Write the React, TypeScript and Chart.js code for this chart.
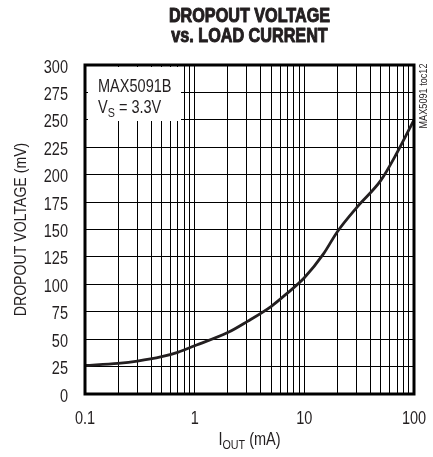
import React, { useEffect, useRef } from "react";
import { Chart, registerables } from "chart.js";

Chart.register(...registerables);

const currentMA = [0.1, 0.2, 0.3, 0.5, 0.7, 1, 2, 3, 5, 7, 10, 15, 20, 30, 50, 70, 100];
const dropoutMV = [26, 28, 30, 34, 38, 44, 56, 66, 80, 92, 106, 128, 148, 170, 195, 220, 250];
const xGridValues = [0.1, 0.2, 0.3, 0.4, 0.5, 0.6, 0.7, 0.8, 0.9, 1, 2, 3, 4, 5, 6, 7, 8, 9, 10, 20, 30, 40, 50, 60, 70, 80, 90, 100];
const xLabelValues = [0.1, 1, 10, 100];
const xLabelTexts = ["0.1", "1", "10", "100"];
const titleLines = ["DROPOUT VOLTAGE", "vs. LOAD CURRENT"];

const FONT = '"Liberation Sans", Arial, sans-serif';
const SX = 0.83; // horizontal condensing to mimic a narrow face
const SIZE = 17.5;
const INK = "#231f20";

type Part = [string, boolean];

function measureParts(ctx: CanvasRenderingContext2D, parts: Part[], size: number, weight: string) {
  return parts.map(([t, sub]) => {
    ctx.font = `${weight} ${sub ? size * 0.74 : size}px ${FONT}`;
    return ctx.measureText(t).width * SX;
  });
}

// draws condensed text (with optional subscript parts) at baseline y
function drawText(
  ctx: CanvasRenderingContext2D,
  parts: Part[],
  x: number,
  y: number,
  size: number,
  align: "left" | "center" | "right",
  weight = "normal",
  heavy = 0
) {
  ctx.save();
  ctx.fillStyle = INK;
  ctx.strokeStyle = INK;
  ctx.textAlign = "left";
  ctx.textBaseline = "alphabetic";
  const widths = measureParts(ctx, parts, size, weight);
  const total = widths.reduce((a, b) => a + b, 0);
  let cx = align === "center" ? x - total / 2 : align === "right" ? x - total : x;
  parts.forEach(([t, sub], i) => {
    ctx.font = `${weight} ${sub ? size * 0.74 : size}px ${FONT}`;
    ctx.save();
    ctx.translate(cx, sub ? y + size * 0.24 : y);
    ctx.scale(SX, 1);
    ctx.fillText(t, 0, 0);
    if (heavy > 0) {
      ctx.lineWidth = heavy;
      ctx.lineJoin = "round";
      ctx.strokeText(t, 0, 0);
    }
    ctx.restore();
    cx += widths[i];
  });
  ctx.restore();
}

const decorPlugin = {
  id: "decor",
  beforeDatasetsDraw(chart: any) {
    const { ctx, chartArea } = chart;
    ctx.save();
    ctx.fillStyle = "#fff";
    ctx.fillRect(chartArea.left + 3, chartArea.top + 2, 93, 54);
    ctx.restore();
  },
  afterDraw(chart: any) {
    const { ctx, chartArea, scales } = chart;
    const { left, right, top, bottom } = chartArea;
    ctx.save();
    ctx.strokeStyle = "#000";
    ctx.lineWidth = 3;
    ctx.strokeRect(left, top, right - left, bottom - top);
    ctx.restore();

    const cx = (left + right) / 2;
    // title
    drawText(ctx, [[titleLines[0], false]], cx, 22, 19.5, "center", "bold", 1);
    drawText(ctx, [[titleLines[1], false]], cx, 42, 19.5, "center", "bold", 1);

    // y tick labels
    scales.y.ticks.forEach((t: any) => {
      const py = scales.y.getPixelForValue(t.value);
      drawText(ctx, [[String(t.value), false]], left - 17, py + 7.5, SIZE, "right");
    });
    // x tick labels
    xLabelValues.forEach((v, i) => {
      const px = scales.x.getPixelForValue(v);
      drawText(ctx, [[xLabelTexts[i], false]], px, bottom + 30, SIZE, "center");
    });

    // annotation
    drawText(ctx, [["MAX5091B", false]], left + 13, top + 27, SIZE, "left");
    drawText(ctx, [["V", false], ["S", true], [" = 3.3V", false]], left + 13, top + 48, SIZE, "left");

    // x title
    drawText(ctx, [["I", false], ["OUT", true], [" (mA)", false]], cx, 445, SIZE, "center");

    // y title
    ctx.save();
    ctx.translate(26, (top + bottom) / 2);
    ctx.rotate(-Math.PI / 2);
    drawText(ctx, [["DROPOUT VOLTAGE (mV)", false]], 0, 0, 17, "center");
    ctx.restore();

    // side id
    ctx.save();
    ctx.translate(427, 96);
    ctx.rotate(-Math.PI / 2);
    drawText(ctx, [["MAX5091 toc12", false]], 0, 0, 11, "center");
    ctx.restore();
  },
};

export default function App() {
  const ref = useRef<HTMLCanvasElement>(null);
  useEffect(() => {
    if (!ref.current) return;
    const chart = new Chart(ref.current, {
      type: "line",
      data: {
        datasets: [
          {
            data: currentMA.map((x, i) => ({ x, y: dropoutMV[i] })),
            borderColor: INK,
            borderWidth: 2.8,
            pointRadius: 0,
            cubicInterpolationMode: "monotone",
            fill: false,
          },
        ],
      },
      options: {
        responsive: false,
        animation: false,
        layout: { padding: { top: 65, right: 19, left: 0, bottom: 0 } },
        plugins: { legend: { display: false }, tooltip: { enabled: false }, title: { display: false } },
        scales: {
          x: {
            type: "logarithmic",
            min: 0.1,
            max: 100,
            afterBuildTicks: (scale: any) => {
              scale.ticks = xGridValues.map((v) => ({ value: v }));
            },
            afterFit: (scale: any) => {
              scale.height = 63;
              scale.paddingLeft = 0;
              scale.paddingRight = 0;
            },
            grid: { color: "#000", lineWidth: 1, drawTicks: false },
            border: { display: false },
            ticks: { display: false, autoSkip: false },
          },
          y: {
            min: 0,
            max: 300,
            afterFit: (scale: any) => {
              scale.width = 85;
              scale.paddingTop = 0;
              scale.paddingBottom = 0;
            },
            grid: { color: "#000", lineWidth: 1, drawTicks: false },
            border: { display: false },
            ticks: { display: false, stepSize: 25 },
          },
        },
      },
      plugins: [decorPlugin],
    } as any);
    return () => chart.destroy();
  }, []);
  return (
    <div style={{ position: "absolute", left: 0, top: 0, width: 433, height: 457, background: "#fff" }}>
      <canvas ref={ref} width={433} height={457} />
    </div>
  );
}
